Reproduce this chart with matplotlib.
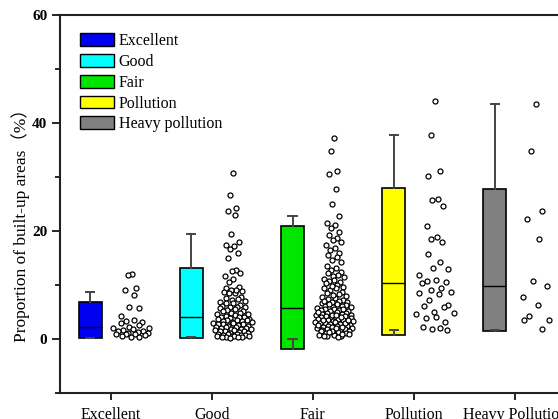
import numpy as np
import matplotlib
matplotlib.use("Agg")
import matplotlib.pyplot as plt
from matplotlib.patches import Patch

# ---------------- data ----------------
categories = ["Excellent", "Good", "Fair", "Pollution", "Heavy Pollution"]
legend_labels = ["Excellent", "Good", "Fair", "Pollution", "Heavy pollution"]
colors = ["#0000F0", "#00FFFF", "#00E600", "#FFFF00", "#808080"]

# box statistics (lower whisker, Q1, median, Q3, upper whisker)
whis_lo = [0.2, 0.35, 0.0, 1.7, 1.6]
q1 = [0.2, 0.2, -1.85, 0.7, 1.5]
med = [2.2, 4.1, 5.7, 10.4, 9.8]
q3 = [6.9, 13.1, 20.9, 27.9, 27.8]
whis_hi = [8.8, 19.4, 22.8, 37.8, 43.5]

excellent = [12.0, 11.8, 9.4, 9.0, 8.2, 6.0, 5.8, 4.3, 3.5, 3.3, 3.1, 2.9, 2.6,
             2.3, 2.1, 2.0, 1.8, 1.7, 1.5, 1.5, 1.3, 1.2, 1.1, 1.0, 1.0, 0.9,
             0.8, 0.6, 0.4, 0.3]
good = [30.7, 26.7, 24.2, 23.8, 23.0, 19.4, 18.0, 17.4, 17.2, 16.6, 15.9, 15.1,
        12.8, 12.6, 12.2, 11.7, 11.2, 10.6, 9.7, 9.4, 8.9, 8.6,
        9.1, 9.0, 8.7, 8.5, 7.8, 7.6, 7.4, 7.3, 7.0, 6.8, 6.7, 6.6, 6.3, 6.1,
        6.0, 6.0, 5.9, 5.8, 5.6, 5.4, 5.2, 5.1, 4.9, 4.8, 4.7, 4.6, 4.4, 4.2,
        4.1, 4.1, 4.0, 3.9, 3.8, 3.7, 3.6, 3.5, 3.5, 3.4, 3.3, 3.2, 3.1, 3.0,
        2.9, 2.8, 2.8, 2.7, 2.6, 2.5, 2.4, 2.3, 2.2, 2.2, 2.1, 2.0, 1.9, 1.8,
        1.8, 1.7, 1.6, 1.5, 1.5, 1.4, 1.3, 1.2, 1.1, 1.0, 1.0, 0.9, 0.8, 0.8,
        0.7, 0.6, 0.6, 0.5, 0.5, 0.4, 0.4, 0.3, 0.3, 0.2]
fair = [37.2, 34.9, 31.2, 30.6, 27.8, 25.0, 22.8, 21.4, 21.1, 20.5, 19.8, 19.3,
        18.8, 18.3, 17.9, 17.4, 16.9, 16.5, 15.9, 15.5, 15.2, 14.6, 14.3, 13.6,
        13.1, 12.8, 12.5, 12.2, 11.9, 11.7, 11.5, 11.2, 11.0, 10.8, 10.6, 10.3,
        10.0, 9.7, 9.5, 9.4, 9.1, 8.8, 8.6, 8.3, 8.0, 7.8, 7.6, 7.4, 7.2, 7.0,
        6.9, 6.8, 6.6, 6.5, 6.3, 6.2, 6.1, 6.0, 5.9, 5.8, 5.6, 5.5, 5.4, 5.3,
        5.2, 5.1, 5.0, 4.9, 4.8, 4.7, 4.6, 4.5, 4.4, 4.3, 4.2, 4.1, 4.0, 3.9,
        3.8, 3.7, 3.6, 3.5, 3.4, 3.3, 3.2, 3.1, 3.0, 2.9, 2.8, 2.7, 2.6, 2.5,
        2.4, 2.3, 2.2, 2.1, 2.0, 1.9, 1.8, 1.7, 1.6, 1.5, 1.4, 1.3, 1.2, 1.1,
        1.0, 0.9, 0.8, 0.7, 0.6, 0.5, 0.4, 3.5, 4.5, 5.5, 2.5, 1.5, 6.4, 7.1,
        3.0, 4.0, 2.0, 1.0, 5.0, 0.5, 2.6, 3.6, 8.2, 9.9, 4.4, 2.2, 1.3]
pollution = [44.0, 37.8, 31.2, 30.2, 26.0, 25.7, 24.7, 21.0, 18.9, 18.5, 17.9,
             15.7, 14.3, 13.2, 13.0, 11.8, 10.9, 10.7, 10.6, 10.4, 9.4, 9.1,
             8.8, 8.5, 8.3, 7.2, 6.3, 6.2, 5.9, 5.0, 4.9, 4.6, 4.1, 3.9, 3.1,
             2.3, 2.0, 1.9, 1.7]
heavy = [43.6, 34.9, 23.7, 22.2, 18.5, 10.8, 9.9, 7.7, 6.3, 4.3, 3.6, 3.6, 1.8]
groups = [excellent, good, fair, pollution, heavy]

ytick_vals = [0, 20, 40, 60]

# ---------------- plot ----------------
plt.rcParams['font.family'] = ['Liberation Serif', 'Noto Sans CJK SC', 'DejaVu Sans']
fig = plt.figure(figsize=(5.58, 4.19), dpi=100)
ax = fig.add_axes([0.1075, 0.062, 0.906, 0.902])

pos = np.arange(len(categories))
box_off = -0.2
pts_off = 0.21

stats = []
for i in range(len(categories)):
    stats.append(dict(whislo=whis_lo[i], q1=q1[i], med=med[i], q3=q3[i],
                      whishi=whis_hi[i], fliers=[]))
bp = ax.bxp(stats, positions=pos + box_off, widths=0.23, patch_artist=True,
            showfliers=False, manage_ticks=False,
            boxprops=dict(edgecolor='black', linewidth=1.2),
            medianprops=dict(color='black', linewidth=1.0),
            whiskerprops=dict(color='#444444', linewidth=1.4),
            capprops=dict(color='#444444', linewidth=1.4),
            capwidths=0.08)
for patch, c in zip(bp['boxes'], colors):
    patch.set_facecolor(c)


def vdc(k, base=2):
    v, denom = 0.0, 1.0
    while k:
        k, r = divmod(k, base)
        denom *= base
        v += r / denom
    return v


for i, vals in enumerate(groups):
    v = np.asarray(vals, dtype=float)
    dens = np.array([np.exp(-0.5 * ((x - v) / 1.5) ** 2).sum() for x in v])
    f = 0.3 + 0.7 * dens / dens.max()
    order = np.argsort(-v)
    offs = np.zeros_like(v)
    for rank, idx in enumerate(order):
        offs[idx] = 0.2 * f[idx] * (2 * vdc(rank + 1) - 1)
    ax.plot(pos[i] + pts_off + offs, v, linestyle='none', marker='o',
            markersize=3.6, markerfacecolor='white', markeredgecolor='black',
            markeredgewidth=0.9, clip_on=False)

ax.set_xlim(-0.5, 4.5)
ax.set_ylim(-10, 60)
ax.set_xticks(pos)
ax.set_xticklabels(categories, fontsize=11.5)
ax.set_yticks(ytick_vals)
ax.set_yticklabels([str(t) for t in ytick_vals], fontsize=11, fontweight='bold')
ax.set_yticks([-10, 10, 30, 50], minor=True)
ax.tick_params(axis='y', which='major', length=6, width=1.2, pad=3)
ax.tick_params(axis='y', which='minor', length=3.5, width=1.2)
ax.tick_params(axis='x', which='major', length=5, width=1.2, pad=5)
for s in ax.spines.values():
    s.set_linewidth(1.5)
    s.set_color('#222222')

ax.set_ylabel("Proportion of built-up areas（%）", fontsize=12.5)
ax.yaxis.set_label_coords(-0.06, 0.455)

handles = [Patch(facecolor=c, edgecolor='black', linewidth=1.0) for c in colors]
ax.legend(handles, legend_labels, loc='upper left', bbox_to_anchor=(0.04, 0.952),
          frameon=False, fontsize=11.5, handlelength=2.1, handleheight=0.85,
          handletextpad=0.3, labelspacing=0.3, borderpad=0, borderaxespad=0)

fig.savefig("out.png", dpi=100)
